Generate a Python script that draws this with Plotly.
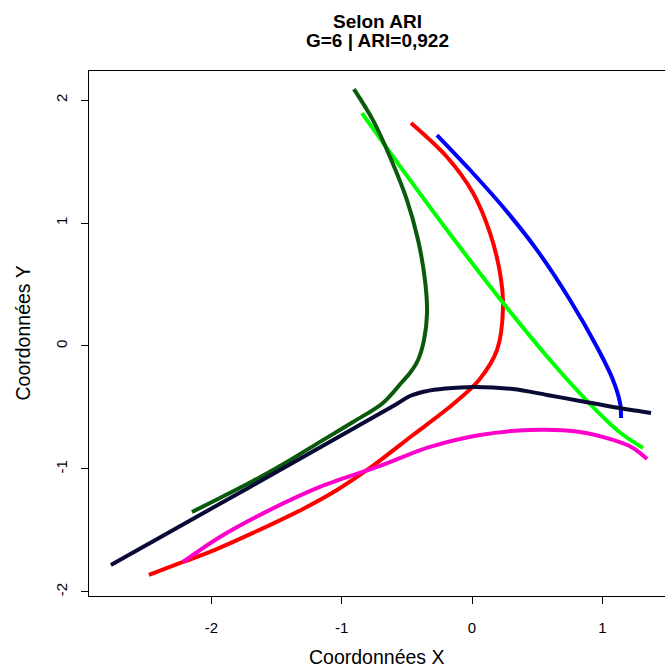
import plotly.graph_objects as go

# Cluster curves (x, y coordinates)
darkgreen_x = [-0.906, -0.760, -0.629, -0.499, -0.414, -0.361, -0.345, -0.368, -0.414, -0.476, -0.537, -0.683, -0.913, -1.167, -1.420, -1.681, -1.934, -2.149]
darkgreen_y = [2.089, 1.837, 1.537, 1.187, 0.862, 0.537, 0.268, 0.049, -0.114, -0.220, -0.293, -0.463, -0.618, -0.780, -0.943, -1.098, -1.236, -1.350]

green_x = [-0.844, -0.553, -0.169, 0.215, 0.599, 0.906, 1.136, 1.312]
green_y = [1.894, 1.463, 0.911, 0.382, -0.114, -0.472, -0.703, -0.829]

red_x = [-0.468, -0.192, 0.008, 0.138, 0.215, 0.238, 0.192, 0.054, -0.153, -0.453, -0.783, -1.036, -1.297, -1.681, -2.011, -2.218, -2.479]
red_y = [1.813, 1.537, 1.244, 0.919, 0.593, 0.317, -0.033, -0.276, -0.480, -0.724, -0.992, -1.171, -1.325, -1.520, -1.675, -1.756, -1.862]

blue_x = [-0.269, -0.015, 0.238, 0.499, 0.752, 0.959, 1.082, 1.136, 1.144]
blue_y = [1.715, 1.431, 1.130, 0.780, 0.374, -0.008, -0.276, -0.463, -0.585]

navy_x = [-2.771, -1.704, -0.591, -0.476, -0.361, -0.207, 0.023, 0.315, 0.576, 0.829, 1.082, 1.374]
navy_y = [-1.780, -1.146, -0.480, -0.407, -0.370, -0.346, -0.333, -0.350, -0.398, -0.447, -0.496, -0.545]

magenta_x = [-2.218, -1.934, -1.550, -1.167, -0.729, -0.322, 0.061, 0.445, 0.829, 1.082, 1.236, 1.343]
magenta_y = [-1.756, -1.553, -1.333, -1.146, -0.984, -0.821, -0.724, -0.683, -0.699, -0.764, -0.829, -0.919]

tick_vals = [-2, -1, 0, 1, 2]
tick_text = ["-2", "-1", "0", "1", "2"]

series = [
    (red_x, red_y, "#FF0000"),
    (blue_x, blue_y, "#0000FF"),
    (green_x, green_y, "#00FF00"),
    (darkgreen_x, darkgreen_y, "#0B5A0B"),
    (magenta_x, magenta_y, "#FF00CC"),
    (navy_x, navy_y, "#0A0A36"),
]

fig = go.Figure()
for xs, ys, col in series:
    fig.add_trace(go.Scatter(
        x=xs, y=ys, mode="lines",
        line=dict(color=col, width=4, shape="spline", smoothing=0.9),
        showlegend=False, hoverinfo="skip",
    ))

font = "Liberation Sans, Arial, Helvetica, sans-serif"
plot_h = 668 - 71 - 72

def paper_y(py):
    # convert a pixel row to paper coordinates of the plot area
    return (596 - py) / plot_h

fig.update_layout(
    width=665, height=668,
    margin=dict(l=89, r=0, t=71, b=72),
    paper_bgcolor="white", plot_bgcolor="white",
    font=dict(family=font, size=15, color="black"),
    xaxis=dict(
        range=[-2.939, 1.481], showgrid=False, zeroline=False,
        showline=True, mirror=True, linecolor="black", linewidth=1,
        ticks="outside", ticklen=7, tickcolor="black",
        tickvals=tick_vals, ticktext=tick_text,
        tickfont=dict(size=15), ticklabelstandoff=11,
    ),
    yaxis=dict(
        range=[-2.033, 2.236], showgrid=False, zeroline=False,
        showline=True, mirror=False, linecolor="black", linewidth=1,
        ticks="outside", ticklen=7, tickcolor="black",
        tickvals=tick_vals, ticktext=tick_text, tickangle=-90,
        tickfont=dict(size=15), ticklabelstandoff=8,
    ),
    annotations=[
        dict(text="<b>Selon ARI</b>", xref="paper", yref="paper",
             x=0.5, y=paper_y(21.5), xanchor="center", yanchor="middle",
             showarrow=False, font=dict(size=19)),
        dict(text="<b>G=6 | ARI=0,922</b>", xref="paper", yref="paper",
             x=0.5, y=paper_y(40.5), xanchor="center", yanchor="middle",
             showarrow=False, font=dict(size=19)),
        dict(text="Coordonnées X", xref="paper", yref="paper",
             x=0.5, y=paper_y(657), xanchor="center", yanchor="middle",
             showarrow=False, font=dict(size=19.5)),
        dict(text="Coordonnées Y", xref="paper", yref="paper",
             x=(22 - 89) / 576, y=0.5, xanchor="center", yanchor="middle",
             textangle=-90, showarrow=False, font=dict(size=19.5)),
    ],
)

fig.write_html("out.html")
